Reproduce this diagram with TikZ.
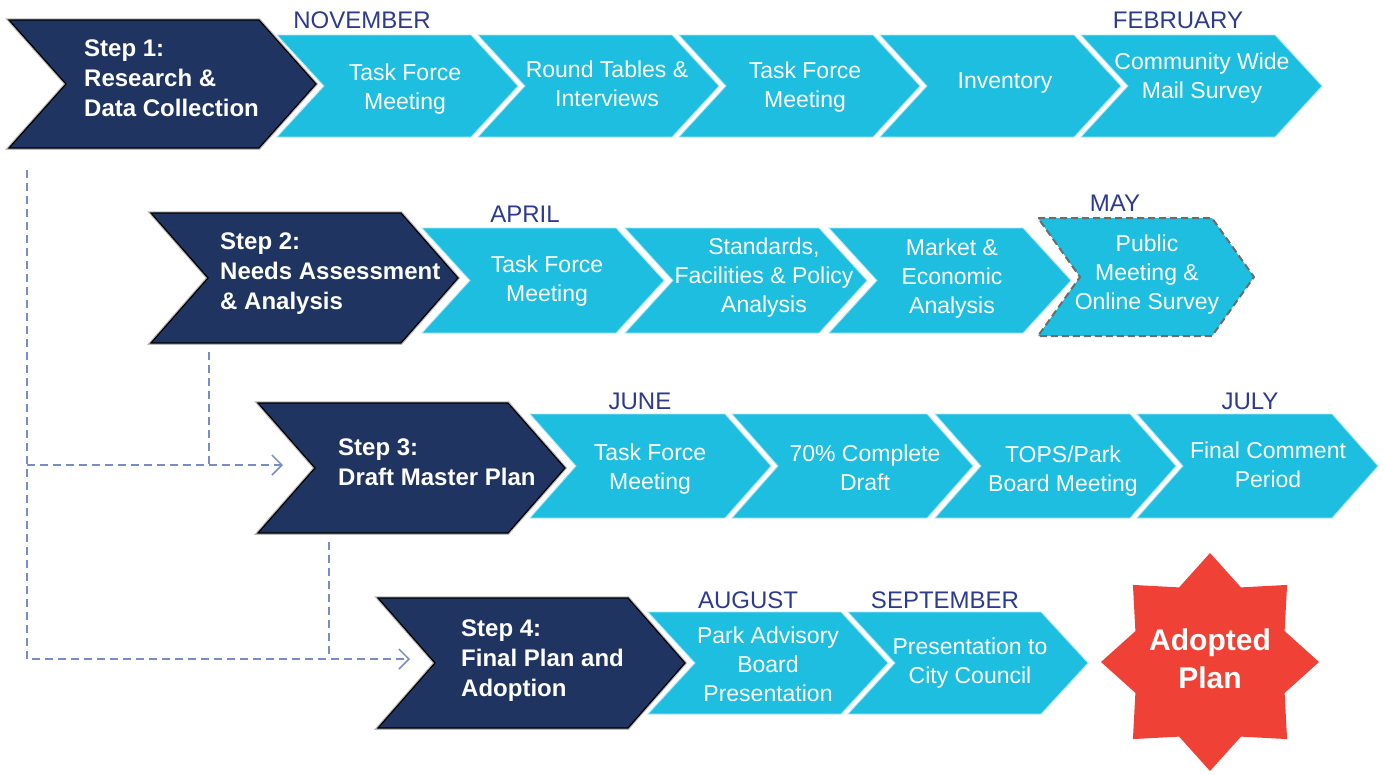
\documentclass[tikz,border=0pt]{standalone}
\usepackage{fontspec}
\setmainfont{Liberation Sans}
\usepackage{tikz}
\usetikzlibrary{shapes.geometric,arrows.meta}

\definecolor{stepnavy}{RGB}{31,52,97}
\definecolor{taskcyan}{RGB}{29,190,224}
\definecolor{monthblue}{RGB}{46,58,140}
\definecolor{linkblue}{RGB}{122,139,200}
\definecolor{starred}{RGB}{239,65,54}

% chevron: style, left x, right x, point depth, top y, bottom y
\newcommand{\chevron}[6]{%
  \draw[#1] (#2,#5) -- (#3,#5) -- ({#3+#4},{(#5+#6)/2}) -- (#3,#6) -- (#2,#6) -- ({#2+#4},{(#5+#6)/2}) -- cycle;}

\tikzset{
  stepbox/.style={fill=stepnavy, draw=black, line width=1.2pt, line join=miter,
    preaction={draw=gray!55, line width=3.5pt}},
  taskbox/.style={fill=taskcyan, draw=white!60!taskcyan, line width=0.8pt},
  maybox/.style={fill=taskcyan, draw=gray!85!black, line width=2pt, dash pattern=on 7pt off 4pt},
  steptext/.style={text=white, anchor=west, align=left, inner sep=0pt,
    font=\bfseries\fontsize{24}{30}\selectfont},
  tasktext/.style={text=white, align=center, inner sep=0pt,
    font=\fontsize{23}{29}\selectfont},
  month/.style={text=monthblue, inner sep=0pt, font=\fontsize{24}{28}\selectfont},
  link/.style={draw=linkblue, line width=1.5pt, dash pattern=on 8pt off 5pt}
}

\begin{document}
\begin{tikzpicture}[x=1pt,y=-1pt,>={Straight Barb[length=10pt,width=20pt]}]
  \useasboundingbox (0,0) rectangle (1384,774);

  % cyan task chevrons
  \foreach \x in {277,478,679,880,1081}
    {\chevron{taskbox}{\x}{\x+194}{47}{35}{137}}
  \foreach \x in {422,625,829}
    {\chevron{taskbox}{\x}{\x+194}{48}{228}{333}}
  \chevron{maybox}{1038}{1212}{42}{218}{336}
  \foreach \x in {530,732,935,1137}
    {\chevron{taskbox}{\x}{\x+195}{46}{414}{518}}
  \foreach \x in {648,848}
    {\chevron{taskbox}{\x}{\x+193}{47}{612}{714}}

  % dark step chevrons
  \chevron{stepbox}{9}{259}{57}{20}{148}
  \chevron{stepbox}{151}{401}{57}{213}{343}
  \chevron{stepbox}{258}{508}{57}{403}{533}
  \chevron{stepbox}{378}{628}{57}{598}{728}

  % step labels
  \node[steptext] (step1) at (84,78) {Step 1:\\Research \&\\Data Collection};
  \node[steptext] (step2) at (220,274) {Step 2:\\Needs Assessment\\\& Analysis};
  \node[steptext] (step3) at (338,462) {Step 3:\\Draft Master Plan};
  \node[steptext] (step4) at (461,661) {Step 4:\\Final Plan and\\Adoption};

  % task labels
  \node[tasktext] (t11) at (405,89) {Task Force\\Meeting};
  \node[tasktext] (t12) at (607,84) {Round Tables \&\\Interviews};
  \node[tasktext] (t13) at (805,87) {Task Force\\Meeting};
  \node[tasktext] (t14) at (1005,83) {Inventory};
  \node[tasktext] (t15) at (1202,78) {Community Wide\\Mail Survey};
  \node[tasktext] (t21) at (547,281) {Task Force\\Meeting};
  \node[tasktext] (t22) at (764,278) {Standards,\\Facilities \& Policy\\Analysis};
  \node[tasktext] (t23) at (952,279) {Market \&\\Economic\\Analysis};
  \node[tasktext] (t24) at (1147,275) {Public\\Meeting \&\\Online Survey};
  \node[tasktext] (t31) at (650,469) {Task Force\\Meeting};
  \node[tasktext] (t32) at (865,468) {70\% Complete\\Draft};
  \node[tasktext] (t33) at (1063,471) {TOPS/Park\\Board Meeting};
  \node[tasktext] (t34) at (1268,465) {Final Comment\\Period};
  \node[tasktext] (t41) at (768,664) {Park Advisory\\Board\\Presentation};
  \node[tasktext] (t42) at (970,663) {Presentation to\\City Council};

  % months
  \node[month] (nov) at (362,20) {NOVEMBER};
  \node[month] (feb) at (1178,20) {FEBRUARY};
  \node[month] (apr) at (525,214) {APRIL};
  \node[month] (may) at (1115,203) {MAY};
  \node[month] (jun) at (640,401) {JUNE};
  \node[month] (jul) at (1250,401) {JULY};
  \node[month] (aug) at (748,600) {AUGUST};
  \node[month] (sep) at (945,600) {SEPTEMBER};

  % end point
  \node[star, star points=8, star point ratio=1.35, minimum size=218pt, inner sep=0pt,
    fill=starred] (adopted) at (1210,662) {};
  \node[text=white, align=center, inner sep=0pt,
    font=\bfseries\fontsize{30}{38}\selectfont] (adoptedtext) at (1210,659) {Adopted\\Plan};

  % dashed links between steps
  \coordinate (s1low) at (27,170);
  \coordinate (s2low) at (209,352);
  \coordinate (s3low) at (329,542);
  \coordinate (to3) at (283,465);
  \coordinate (to4) at (410,659);
  \coordinate (fork) at (s1low |- to3);
  \draw[link,->] (s1low) |- (to4);
  \draw[link,->] (fork) -- (to3);
  \draw[link] (s2low) -- (s2low |- to3);
  \draw[link] (s3low) -- (s3low |- to4);
\end{tikzpicture}
\end{document}
